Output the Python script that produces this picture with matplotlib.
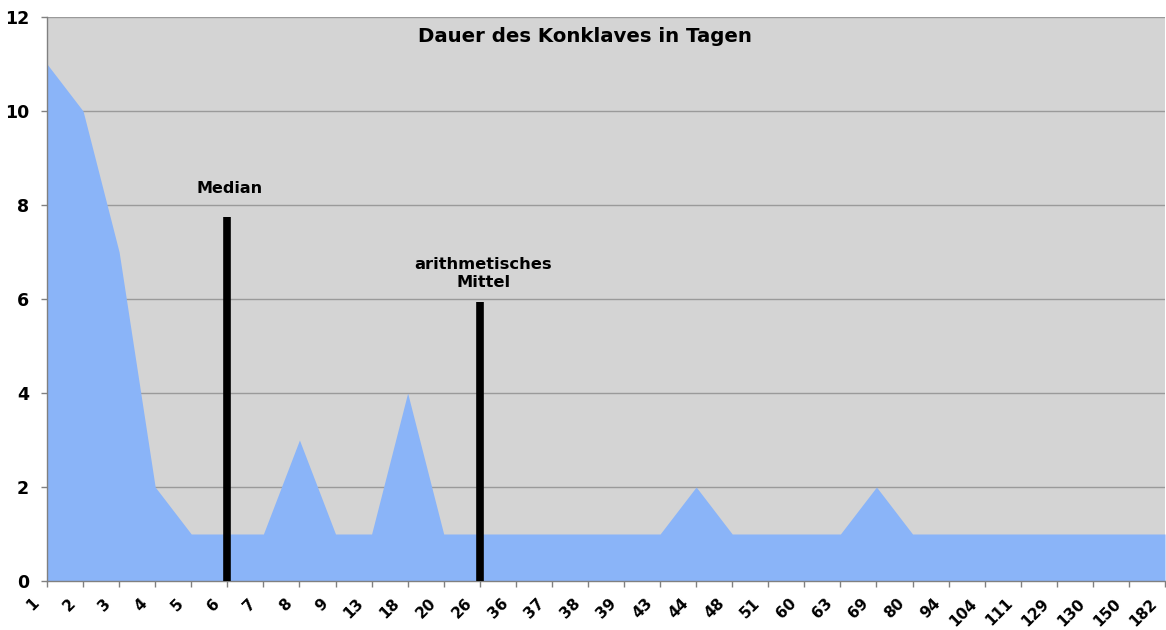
import matplotlib
matplotlib.use("Agg")
import matplotlib.pyplot as plt
import matplotlib.transforms as mtransforms
import numpy as np

categories = ["1", "2", "3", "4", "5", "6", "7", "8", "9", "13", "18", "20", "26",
              "36", "37", "38", "39", "43", "44", "48", "51", "60", "63", "69", "80",
              "94", "104", "111", "129", "130", "150", "182"]
counts = [11, 10, 7, 2, 1, 1, 1, 3, 1, 1, 4, 1, 1,
          1, 1, 1, 1, 1, 2, 1, 1, 1, 1, 2, 1,
          1, 1, 1, 1, 1, 1, 1]
median_pos = "6"
median_height = 7.75
mean_pos = "26"
mean_height = 5.93
title = "Dauer des Konklaves in Tagen"
yticks = [0, 2, 4, 6, 8, 10, 12]

fig = plt.figure(figsize=(11.66, 6.30), dpi=100)
ax = fig.add_axes([47/1166, 1-581/630, (1165-47)/1166, (581-17)/630])
ax.set_facecolor("#d4d4d4")

x = np.arange(len(categories))
ax.fill_between(x, 0, counts, color="#8ab4f8", linewidth=0, zorder=2)

for yv in yticks[1:]:
    ax.axhline(yv, color="#9a9a9a", linewidth=1.0, zorder=1)

mi = categories.index(median_pos)
me = categories.index(mean_pos)
ax.plot([mi, mi], [0, median_height], color="black", linewidth=5.5, solid_capstyle="butt", zorder=3)
ax.plot([me, me], [0, mean_height], color="black", linewidth=5.5, solid_capstyle="butt", zorder=3)

ax.text(mi + 0.05, 8.2, "Median", ha="center", va="bottom", fontsize=11.5, fontweight="bold")
ax.text(me + 0.1, 6.2, "arithmetisches\nMittel", ha="center", va="bottom", fontsize=11.7,
        fontweight="bold", linespacing=1.25)
ax.text(14.92, 11.78, title, ha="center", va="top", fontsize=14.2, fontweight="bold")

ax.set_xlim(0, len(categories) - 1)
ax.set_ylim(0, 12)
ax.set_yticks(yticks)
ax.set_yticklabels([str(v) for v in yticks], fontsize=12.5, fontweight="bold")
ax.set_xticks(x)
ax.set_xticklabels(categories, rotation=45, ha="right", va="top", fontsize=11,
                   fontweight="bold")
ax.tick_params(axis="both", direction="out", length=4, color="#808080", width=1)
ax.tick_params(axis="x", pad=6.5)
ax.tick_params(axis="y", pad=9)

shift = mtransforms.ScaledTranslation(-5/100, 0, fig.dpi_scale_trans)
for lab in ax.get_xticklabels():
    lab.set_transform(lab.get_transform() + shift)

for s in ["top", "right"]:
    ax.spines[s].set_visible(False)
for s in ["left", "bottom"]:
    ax.spines[s].set_color("#808080")
    ax.spines[s].set_linewidth(1)

fig.savefig("out.png", dpi=100)
